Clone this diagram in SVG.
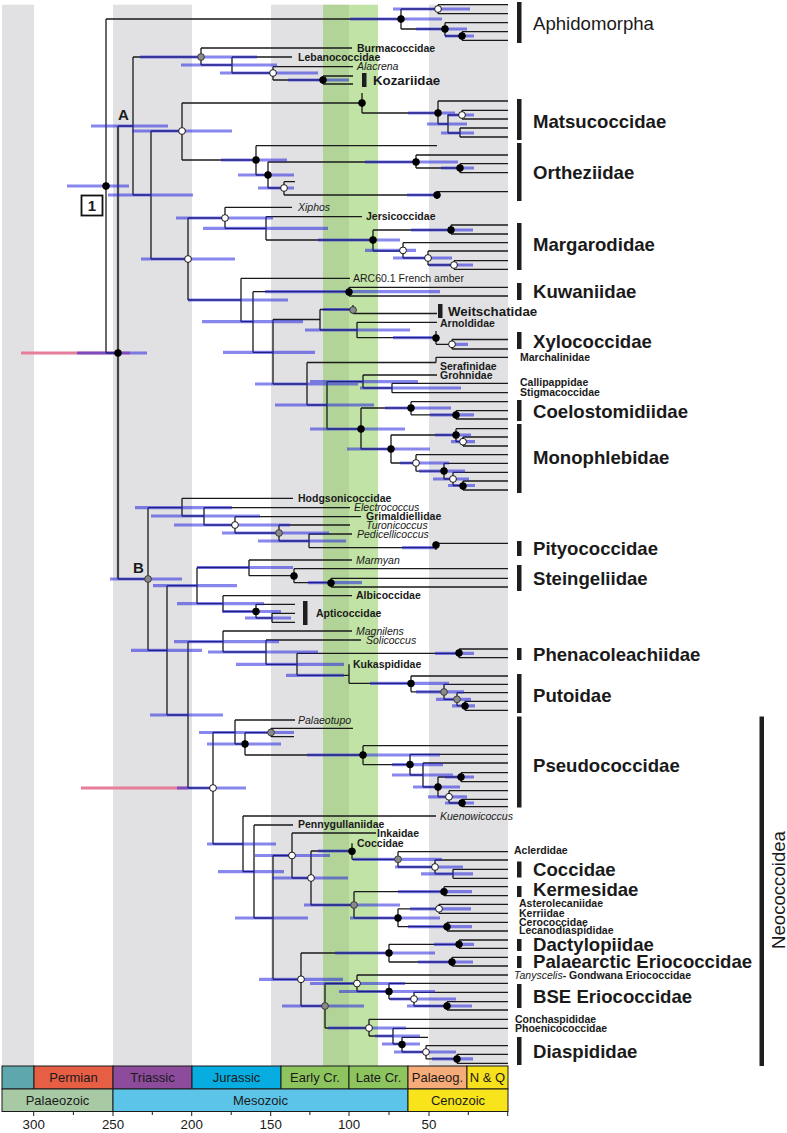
<svg xmlns="http://www.w3.org/2000/svg" width="787" height="1133" viewBox="0 0 787 1133">
<style>
text{font-family:"Liberation Sans",Arial,sans-serif;fill:#1a1a1a}
.big{font-size:18.6px;font-weight:bold}
.bigr{font-size:18.6px}
.sm{font-size:10.5px;font-weight:bold}
.it{font-size:10.5px;font-style:italic}
.rg{font-size:10.5px}
.med{font-size:13.3px;font-weight:bold}
.ts{font-size:13px}
.tk{font-size:13.3px}
.br{fill:#1e1e1e}
.b{fill:#000;stroke:#000;stroke-width:.8}
.w{fill:#fff;stroke:#000;stroke-width:.9}
.g{fill:#8a8a8a;stroke:#333;stroke-width:.9}
</style>
<rect width="787" height="1133" fill="#fff"/>
<g id="bands">
<rect x="2" y="4.7" width="32" height="1061.3" fill="#e1e1e3"/>
<rect x="113" y="4.7" width="79" height="1061.3" fill="#e1e1e3"/>
<rect x="271" y="4.7" width="78" height="1061.3" fill="#e1e1e3"/>
<rect x="429" y="4.7" width="79" height="1061.3" fill="#e1e1e3"/>
<rect x="323" y="4.7" width="55" height="1061.3" fill="#85c74d" fill-opacity="0.5"/>
</g>
<g id="timescale" stroke="#1a1a1a" stroke-width="1">
<rect x="2" y="1066" width="32" height="23" fill="#5ea8ad"/>
<rect x="34" y="1066" width="79" height="23" fill="#e65f45"/>
<rect x="113" y="1066" width="79" height="23" fill="#8c4b9b"/>
<rect x="192" y="1066" width="89" height="23" fill="#07ade0"/>
<rect x="281" y="1066" width="68" height="23" fill="#8dc45e"/>
<rect x="349" y="1066" width="59" height="23" fill="#8dc45e"/>
<rect x="408" y="1066" width="59" height="23" fill="#f6ac79"/>
<rect x="467" y="1066" width="41" height="23" fill="#f6e11c"/>
<rect x="2" y="1089" width="111" height="22.5" fill="#a7c9a4"/>
<rect x="113" y="1089" width="295" height="22.5" fill="#5cc4e8"/>
<rect x="408" y="1089" width="100" height="22.5" fill="#f7e41b"/>
<path d="M33.7 1111.5V1116M73.4 1111.5V1115M113 1111.5V1116M152.3 1111.5V1115M191.7 1111.5V1116M231.2 1111.5V1115M270.7 1111.5V1116M309.9 1111.5V1115M349 1111.5V1116M389 1111.5V1115M429 1111.5V1116M468.3 1111.5V1115M507.7 1111.5V1116" fill="none"/>
</g>
<g id="timescale-labels" class="ts" text-anchor="middle">
<text x="73.5" y="1082">Permian</text>
<text x="152.5" y="1082">Triassic</text>
<text x="236.5" y="1082">Jurassic</text>
<text x="315" y="1082">Early Cr.</text>
<text x="378.5" y="1082">Late Cr.</text>
<text x="437.5" y="1082">Palaeog.</text>
<text x="487.5" y="1082">N &amp; Q</text>
<text x="57.5" y="1105">Palaeozoic</text>
<text x="260.5" y="1105">Mesozoic</text>
<text x="458" y="1105">Cenozoic</text>
</g>
<g id="axis-labels" class="tk" text-anchor="middle">
<text x="33.7" y="1129">300</text>
<text x="113" y="1129">250</text>
<text x="191.7" y="1129">200</text>
<text x="270.7" y="1129">150</text>
<text x="349" y="1129">100</text>
<text x="429" y="1129">50</text>
</g>
<g id="connectors" fill="none">
<path stroke="#e77d98" stroke-width="3.2" d="M21 353H130M81 788H188"/>
<path stroke="#1a1a1a" stroke-width="1.3" d="
M106 19V353M106 19H401M106 353H118
M401 9V29M401 9H438M401 29H445M438 4.7V13.7M438 4.7H508M438 13.7H508
M445 22.7V36M445 22.7H508M445 36H462M462 31.7V40.3M462 31.7H508M462 40.3H508
M118 126H133M118 579H148
M133 57V195M133 57H201M133 195H151
M201 48V65M201 48H352M201 65H232
M232 57V73M232 57H292M232 73H273
M273 66.7V80M273 66.7H353M273 80H323
M323 76V84M323 76H353M323 84H353
M151 131V259M151 131H182M151 259H188
M182 103V160M182 103H362M182 160H256
M362 93V113M362 113H438
M438 101V124M438 101H508M438 124H448
M448 115V133M448 115H462M448 133H460
M462 110.3V119M462 110.3H508M462 119H508
M460 128V137M460 128H508M460 137H508
M256 145.7V175M256 145.7H437M256 175H268
M268 162V188M268 162H416M268 188H284
M416 155V168M416 155H508M416 168H460
M460 163.7V172.7M460 163.7H508M460 172.7H508
M284 181.7V195M284 181.7H295M284 195H437
M437 191.7V199M437 191.7H508
M188 218V300M188 218H225M188 300H241
M225 207.3V228.3M225 207.3H292M225 228.3H266
M266 216.7V240M266 216.7H362M266 240H373
M373 230V251M373 230H451M373 251H403
M451 225V234M451 225H508M451 234H508
M403 242.7V258M403 242.7H508M403 258H428
M428 251V265M428 251H508M428 265H454
M454 260.7V269.3M454 260.7H508M454 269.3H508
M241 278.3V321.7M241 278.3H350M241 321.7H253
M253 291.7V352.3M253 291.7H349M253 352.3H273
M349 287.3V296M349 287.3H508M349 296H508
M273 319.5V384M273 319.5H320M273 384H307
M320 309.5V330M320 309.5H353M320 330H357
M353 305V313.5M353 313.5H437
M357 322.3V337.7M357 322.3H437M357 337.7H436
M436 331V344.3M436 344.3H452
M452 339.5V349M452 339.5H508M452 349H508
M307 362.5V405M307 362.5H436M436 357.3V362.5M436 357.3H508M307 405H327
M327 381.7V429M327 381.7H363M327 429H361
M363 375V388M363 375H437M363 388H392
M392 383.3V392.7M392 383.3H508M392 392.7H508
M361 408V449M361 408H411M361 449H391
M411 401.7V414.8M411 401.7H508M411 414.8H456
M456 410.7V419M456 410.7H508M456 419H508
M391 435V463M391 435H456M391 463H416
M456 428.7V441.7M456 428.7H508M456 441.7H463
M463 437V446M463 437H508M463 446H508
M416 454.7V471.2M416 454.7H508M416 471.2H444
M444 463.3V479M444 463.3H508M444 479H453
M453 472.3V485.5M453 472.3H508M453 485.5H463
M463 481V490M463 481H508M463 490H508
M148 507.7V650.3M148 507.7H182M148 650.3H167
M182 498.3V516M182 498.3H293M182 516H204
M204 507.7V525M204 507.7H350M204 525H235
M235 516.7V533M235 516.7H361M235 533H279
M279 525V541M279 525H350M279 541H309
M309 534V547.7M309 534H352M309 547.7H436
M436 543.3V550M436 543.3H508
M167 585.7V715M167 585.7H197M167 715H188
M197 567.5V603.7M197 567.5H249M197 603.7H223
M249 560V575.7M249 560H352M249 575.7H294
M294 568.7V582.7M294 568.7H508M294 582.7H331
M331 578.3V587M331 578.3H508M331 587H508
M223 595.7V611.5M223 595.7H352M223 611.5H256
M256 604.3V618M256 604.3H295M256 618H272
M272 613.3V622.3M272 613.3H295M272 622.3H295
M188 641.7V788M188 641.7H223M188 788H213
M223 631V652M223 631H352M223 652H266
M266 640V664.3M266 640H361M266 664.3H297
M297 653.3V675.3M297 653.3H459M297 675.3H349
M459 649V657.7M459 649H508M459 657.7H508
M349 664.3V683.3M349 683.3H411
M411 676V691.8M411 676H508M411 691.8H444
M444 684.3V699.3M444 684.3H508M444 699.3H457
M457 692.7V705.8M457 692.7H508M457 705.8H465
M465 701.3V710.3M465 701.3H508M465 710.3H508
M213 732.3V844M213 732.3H235M213 844H243
M235 720V744M235 720H295M235 744H245
M245 732.7V755M245 732.7H271M245 755H363
M271 728.3V736.7M271 728.3H353M271 736.7H294
M363 745.7V764.6M363 745.7H508M363 764.6H410
M410 754.3V775M410 754.3H508M410 775H423
M423 763V787M423 763H508M423 787H438
M438 777V796.8M438 777H461M438 796.8H449
M461 772.7V781.7M461 772.7H508M461 781.7H508
M449 790.7V803M449 790.7H508M449 803H462
M462 799.3V806.7M462 799.3H508M462 806.7H508
M243 816V871.7M243 816H436M243 871.7H254
M254 825V918M254 825H293M254 918H273
M273 855.5V979.3M273 855.5H292M273 979.3H301
M292 833V878M292 833H376M292 878H311
M311 851V905M311 851H352M311 905H354
M352 843.3V859.3M352 859.3H398
M398 851.7V867M398 851.7H508M398 867H435
M435 860V873.8M435 860H508M435 873.8H453
M453 869.3V878.3M453 869.3H508M453 878.3H508
M354 891.7V918M354 891.7H444M354 918H398
M444 886.7V895.7M444 886.7H508M444 895.7H508
M398 908.8V926.7M398 908.8H439M398 926.7H447
M439 904.3V913.3M439 904.3H508M439 913.3H508
M447 922.3V931M447 922.3H508M447 931H508
M301 953V1006M301 953H389M301 1006H325
M389 944.3V962M389 944.3H459M389 962H452
M459 940V948.3M459 940H508M459 948.3H508
M452 957.3V966M452 957.3H508M452 966H508
M325 983.5V1028M325 983.5H357M325 1028H369
M357 975V991.5M357 975H508M357 991.5H389
M389 983.3V999M389 983.3H508M389 999H414
M414 992.3V1006M414 992.3H508M414 1006H447
M447 1001.7V1010M447 1001.7H508M447 1010H508
M369 1019.3V1036M369 1019.3H508M369 1036H393
M393 1028.3V1044M393 1028.3H508M393 1044H402
M402 1037.3V1052M402 1037.3H428M402 1052H426
M426 1045.7V1058.8M426 1045.7H508M426 1058.8H457
M457 1054.3V1063.3M457 1054.3H508M457 1063.3H508"/>
<path stroke="#444" stroke-width="2.2" d="M118 126V579"/>
</g>
<g id="hpd-bars" fill="none" stroke="#2424e0" stroke-opacity="0.55" stroke-width="3.2">
<path d="M67 186H129M77 353H147M91 126H168M140 57H257M181 65H277M220 73H318M288 80H349
M350 19H442M393 9H470M416 29H467M445 36H474M108 195H193M132 131H232M408 113H455M427 124H467M447 115H474M441 133H474
M221 160H287M238 175H294M258 188H294M365 162H458M441 168H474M407 195H435
M141 259H235M176 218H273M203 228.3H328M318 240H400M411 230H473M365 250.4H416M393 258H452M429 265H473
M188 300H288M202 321.7H303M265 291.7H440M223 352.3H315M305 330H410M323 309.5H350M393 337.7H435M452 344.3H468
M255 384H358M275 405H374M310 381.7H418M360 388H461M310 429H405M385 408H451M430 414.8H474M347 449H430
M435 435H471M451 441.7H475M400 463H449M419 471.2H465M433 479H469M448 485.5H475
M110 579H182M135 507.7H232M151 516H260M174 525H290M222 533H329M258 541H346M402 547.7H435
M131 650.3H202M153 585.7H237M197 567.5H293M308 582.7H362M177 603.7H264M222 611.5H281M245 618H291
M150 715H223M174 641.7H279M208 652H318M236 664.3H344M435 653.3H474M286 675.3H344M370 683.3H449M416 691.8H464M436 699.3H471M452 705.8H475
M177 788H246M199 732.5H294M207 744H281M307 755H440M392 764.6H443M392 775H453M413 787H460M445 777H474M428 796.8H467M445 803H474
M207 844H276M218 871.7H284M235 918H308M255 855.5H330M272 878H348M318 851H350M353 859.3H442M395 867H463M421 873.8H473
M304 905H400M398 891.7H472M350 918H440M410 908.8H471M408 926.7H472
M259 979.3H343M335 953H435M434 944.3H474M418 962H473M282 1006H364M310 983.5H405M339 991.5H435M390 999H456M407 1006H472
M328 1028H406M375 1036H420M382 1044H420M394 1052H456M432 1058.8H473"/>
</g>
<g id="tree-nodes">
<g class="b">
<circle cx="106" cy="186" r="3.4"/><circle cx="118" cy="353" r="3.4"/><circle cx="323" cy="80" r="3.4"/><circle cx="362" cy="103" r="3.4"/>
<circle cx="401" cy="19" r="3.4"/><circle cx="445" cy="29" r="3.4"/><circle cx="462" cy="36" r="3.4"/><circle cx="438" cy="113" r="3.4"/>
<circle cx="256" cy="160" r="3.4"/><circle cx="268" cy="175" r="3.4"/><circle cx="416" cy="162" r="3.4"/><circle cx="460" cy="168" r="3.4"/>
<circle cx="437" cy="195" r="3.4"/><circle cx="373" cy="240" r="3.4"/><circle cx="451" cy="230" r="3.4"/><circle cx="349" cy="292" r="3.4"/>
<circle cx="436" cy="338" r="3.4"/><circle cx="361" cy="429" r="3.4"/><circle cx="411" cy="408" r="3.4"/><circle cx="456" cy="415" r="3.4"/>
<circle cx="391" cy="449" r="3.4"/><circle cx="456" cy="435" r="3.4"/><circle cx="444" cy="471" r="3.4"/><circle cx="463" cy="486" r="3.4"/>
<circle cx="436" cy="545" r="3.4"/><circle cx="294" cy="576" r="3.4"/><circle cx="331" cy="583" r="3.4"/><circle cx="256" cy="611.5" r="3.4"/>
<circle cx="459" cy="653" r="3.4"/><circle cx="411" cy="683.5" r="3.4"/><circle cx="465" cy="706" r="3.4"/><circle cx="245" cy="744" r="3.4"/>
<circle cx="363" cy="755" r="3.4"/><circle cx="410" cy="764.5" r="3.4"/><circle cx="461" cy="777" r="3.4"/><circle cx="438" cy="787" r="3.4"/>
<circle cx="462" cy="803" r="3.4"/><circle cx="352" cy="851.3" r="3.4"/><circle cx="444" cy="891.7" r="3.4"/><circle cx="398" cy="918" r="3.4"/>
<circle cx="447" cy="926.7" r="3.4"/><circle cx="389" cy="953" r="3.4"/><circle cx="459" cy="944.3" r="3.4"/><circle cx="452" cy="962" r="3.4"/>
<circle cx="389" cy="991.5" r="3.4"/><circle cx="447" cy="1006" r="3.4"/><circle cx="402" cy="1044.5" r="3.4"/><circle cx="457" cy="1059" r="3.4"/>
</g>
<g class="w">
<circle cx="182" cy="131" r="3.4"/><circle cx="273" cy="73" r="3.4"/><circle cx="438" cy="9" r="3.4"/><circle cx="462" cy="115" r="3.4"/>
<circle cx="284" cy="188" r="3.4"/><circle cx="188" cy="259" r="3.4"/><circle cx="225" cy="218" r="3.4"/><circle cx="403" cy="250.4" r="3.4"/>
<circle cx="428" cy="258" r="3.4"/><circle cx="454" cy="265" r="3.4"/><circle cx="452" cy="344.3" r="3.4"/><circle cx="463" cy="441.7" r="3.4"/>
<circle cx="416" cy="463" r="3.4"/><circle cx="453" cy="479" r="3.4"/><circle cx="235" cy="525" r="3.4"/><circle cx="213" cy="788" r="3.4"/>
<circle cx="449" cy="796.8" r="3.4"/><circle cx="292" cy="855.5" r="3.4"/><circle cx="311" cy="878" r="3.4"/><circle cx="435" cy="867" r="3.4"/>
<circle cx="439" cy="908.8" r="3.4"/><circle cx="301" cy="979.3" r="3.4"/><circle cx="357" cy="983.5" r="3.4"/><circle cx="414" cy="999" r="3.4"/>
<circle cx="369" cy="1028" r="3.4"/><circle cx="426" cy="1052" r="3.4"/>
</g>
<g class="g">
<circle cx="201" cy="57" r="3.4"/><circle cx="353" cy="310" r="3.4"/><circle cx="279" cy="533" r="3.4"/><circle cx="148" cy="579" r="3.4"/>
<circle cx="444" cy="692" r="3.4"/><circle cx="457" cy="699.3" r="3.4"/><circle cx="271" cy="732.5" r="3.4"/><circle cx="398" cy="859.3" r="3.4"/>
<circle cx="354" cy="905" r="3.4"/><circle cx="325" cy="1006" r="3.4"/>
</g>
</g>
<g id="node-A"><text x="118" y="120" font-size="15" font-weight="bold">A</text></g>
<g id="node-B"><text x="133" y="573" font-size="15" font-weight="bold">B</text></g>
<g id="node-1"><rect x="81.5" y="195.5" width="21" height="20" fill="#fff" stroke="#111" stroke-width="1.8"/><text x="92" y="211" font-size="15" font-weight="bold" text-anchor="middle">1</text></g>
<g id="clade-aphidomorpha"><rect class="br" x="517" y="2" width="4.5" height="41"/><text class="bigr" x="533" y="29.5">Aphidomorpha</text></g>
<g id="tip-burmacoccidae"><text class="sm" x="357" y="51.7">Burmacoccidae</text></g>
<g id="tip-lebanococcidae"><text class="sm" x="298" y="60.7">Lebanococcidae</text></g>
<g id="tip-alacrena"><text class="it" x="357" y="70.4">Alacrena</text></g>
<g id="clade-kozariidae"><rect class="br" x="362" y="73" width="4.5" height="14"/><text class="med" x="373" y="84.7">Kozariidae</text></g>
<g id="clade-matsucoccidae"><rect class="br" x="517" y="99" width="4.5" height="41"/><text class="big" x="533" y="128.2">Matsucoccidae</text></g>
<g id="clade-ortheziidae"><rect class="br" x="517" y="143" width="4.5" height="58"/><text class="big" x="533" y="179.2">Ortheziidae</text></g>
<g id="tip-xiphos"><text class="it" x="298" y="211">Xiphos</text></g>
<g id="tip-jersicoccidae"><text class="sm" x="366" y="220.4">Jersicoccidae</text></g>
<g id="clade-margarodidae"><rect class="br" x="517" y="223" width="4.5" height="47"/><text class="big" x="533" y="250.8">Margarodidae</text></g>
<g id="tip-arc601"><text class="rg" x="353" y="282">ARC60.1 French amber</text></g>
<g id="clade-kuwaniidae"><rect class="br" x="517" y="283" width="4.5" height="17"/><text class="big" x="533" y="298.2">Kuwaniidae</text></g>
<g id="clade-weitschatidae"><rect class="br" x="438" y="304" width="4.5" height="14"/><text class="med" x="448" y="315.7">Weitschatidae</text></g>
<g id="tip-arnoldidae"><text class="sm" x="440" y="326.7">Arnoldidae</text></g>
<g id="clade-xylococcidae"><rect class="br" x="517" y="332" width="4.5" height="17"/><text class="big" x="533" y="348.2">Xylococcidae</text></g>
<g id="tip-marchalinidae"><text class="sm" x="520" y="361">Marchalinidae</text></g>
<g id="tip-serafinidae"><text class="sm" x="440" y="369.7">Serafinidae</text></g>
<g id="tip-grohnidae"><text class="sm" x="440" y="379.2">Grohnidae</text></g>
<g id="tip-callipappidae"><text class="sm" x="520" y="386.2">Callipappidae</text></g>
<g id="tip-stigmacoccidae"><text class="sm" x="520" y="395.7">Stigmacoccidae</text></g>
<g id="clade-coelostomidiidae"><rect class="br" x="517" y="400" width="4.5" height="21"/><text class="big" x="533" y="418.2">Coelostomidiidae</text></g>
<g id="clade-monophlebidae"><rect class="br" x="517" y="424" width="4.5" height="69"/><text class="big" x="533" y="463.8">Monophlebidae</text></g>
<g id="tip-hodgsonicoccidae"><text class="sm" x="298" y="502">Hodgsonicoccidae</text></g>
<g id="tip-electrococcus"><text class="it" x="354" y="511.4">Electrococcus</text></g>
<g id="tip-grimaldiellidae"><text class="sm" x="366" y="520.4">Grimaldiellidae</text></g>
<g id="tip-turonicoccus"><text class="it" x="366" y="528.7">Turonicoccus</text></g>
<g id="tip-pedicellicoccus"><text class="it" x="357" y="537.7">Pedicellicoccus</text></g>
<g id="clade-pityococcidae"><rect class="br" x="517" y="541" width="4.5" height="15"/><text class="big" x="533" y="554.8">Pityococcidae</text></g>
<g id="tip-marmyan"><text class="it" x="356" y="563.7">Marmyan</text></g>
<g id="clade-steingeliidae"><rect class="br" x="517" y="565" width="4.5" height="26"/><text class="big" x="533" y="584.8">Steingeliidae</text></g>
<g id="tip-albicoccidae"><text class="sm" x="356" y="599.4">Albicoccidae</text></g>
<g id="clade-apticoccidae"><rect class="br" x="303" y="601" width="4.5" height="24"/><text class="sm" x="316" y="617" font-size="11.5">Apticoccidae</text></g>
<g id="tip-magnilens"><text class="it" x="356" y="634.7">Magnilens</text></g>
<g id="tip-solicoccus"><text class="it" x="366" y="643.7">Solicoccus</text></g>
<g id="clade-phenacoleachiidae"><rect class="br" x="517" y="648" width="4.5" height="12"/><text class="big" x="533" y="660.5">Phenacoleachiidae</text></g>
<g id="tip-kukaspididae"><text class="sm" x="353" y="668">Kukaspididae</text></g>
<g id="clade-putoidae"><rect class="br" x="517" y="674" width="4.5" height="39"/><text class="big" x="533" y="701.5">Putoidae</text></g>
<g id="tip-palaeotupo"><text class="it" x="298" y="723.7">Palaeotupo</text></g>
<g id="clade-pseudococcidae"><rect class="br" x="517" y="716.5" width="4.5" height="91"/><text class="big" x="533" y="771.5">Pseudococcidae</text></g>
<g id="tip-kuenowicoccus"><text class="it" x="440" y="819.7">Kuenowicoccus</text></g>
<g id="tip-pennygullaniidae"><text class="sm" x="298" y="827.7">Pennygullaniidae</text></g>
<g id="tip-inkaidae"><text class="sm" x="377" y="836.7">Inkaidae</text></g>
<g id="tip-coccidae-fossil"><text class="sm" x="357" y="847">Coccidae</text></g>
<g id="tip-aclerdidae"><text class="sm" x="514" y="854.2">Aclerdidae</text></g>
<g id="clade-coccidae"><rect class="br" x="517" y="861.5" width="4.5" height="16"/><text class="big" x="533" y="875.5">Coccidae</text></g>
<g id="clade-kermesidae"><rect class="br" x="517" y="886" width="4.5" height="11"/><text class="big" x="533" y="895.8">Kermesidae</text></g>
<g id="tip-asterolecaniidae"><text class="sm" x="519" y="907.2">Asterolecaniidae</text></g>
<g id="tip-kerriidae"><text class="sm" x="519" y="917.2">Kerriidae</text></g>
<g id="tip-cerococcidae"><text class="sm" x="519" y="925.7">Cerococcidae</text></g>
<g id="tip-lecanodiaspididae"><text class="sm" x="519" y="934.2">Lecanodiaspididae</text></g>
<g id="clade-dactylopiidae"><rect class="br" x="517" y="939" width="4.5" height="12"/><text class="big" x="533" y="950.8">Dactylopiidae</text></g>
<g id="clade-palaearctic-eriococcidae"><rect class="br" x="517" y="956" width="4.5" height="12"/><text class="big" x="533" y="968.2">Palaearctic Eriococcidae</text></g>
<g id="tip-tanyscelis"><text class="sm" x="514" y="978.7"><tspan font-style="italic" font-weight="normal">Tanyscelis</tspan>- Gondwana Eriococcidae</text></g>
<g id="clade-bse-eriococcidae"><rect class="br" x="517" y="984" width="4.5" height="24"/><text class="big" x="533" y="1002.5">BSE Eriococcidae</text></g>
<g id="tip-conchaspididae"><text class="sm" x="515" y="1022.7">Conchaspididae</text></g>
<g id="tip-phoenicococcidae"><text class="sm" x="515" y="1031.7">Phoenicococcidae</text></g>
<g id="clade-diaspididae"><rect class="br" x="517" y="1037" width="4.5" height="28"/><text class="big" x="533" y="1058.2">Diaspididae</text></g>
<g id="clade-neococcoidea"><rect class="br" x="759.5" y="716.5" width="4.5" height="349.5"/><text class="bigr" x="785" y="890" font-size="20" text-anchor="middle" transform="rotate(-90 785 890)">Neococcoidea</text></g>
</svg>
